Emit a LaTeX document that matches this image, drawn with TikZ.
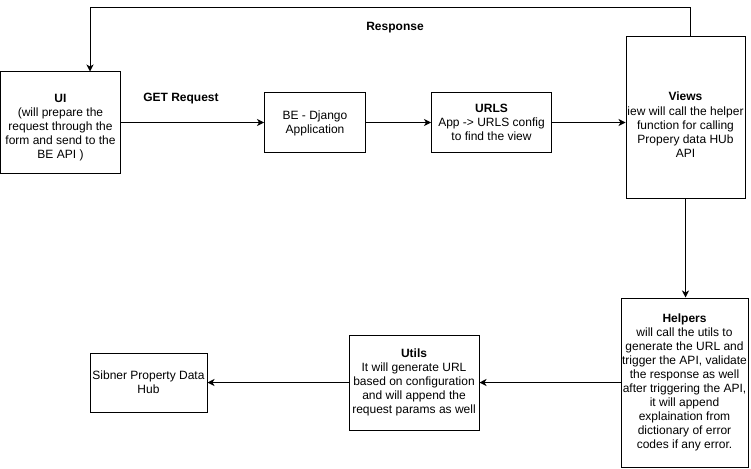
\documentclass[tikz,border=0pt]{standalone}
\usepackage{fontspec}
\setmainfont{Liberation Sans}
\usetikzlibrary{arrows.meta,positioning,calc}

\begin{document}
\begin{tikzpicture}[x=1pt, y=-1pt,
        box/.style={rectangle, draw=black, line width=1pt, fill=white, align=center, inner sep=1pt, font=\fontsize{12}{14}\selectfont},
        lbl/.style={font=\fontsize{12}{14}\selectfont\bfseries},
        flow/.style={-{Stealth[length=7pt, width=7pt, inset=2pt]}, line width=1pt},
        ]
        \useasboundingbox (0,0) rectangle (751,468);

        % Nodes
        \node[box, minimum width=120pt, minimum height=101pt] (ui) at (60.5,122.5) {\rule{0pt}{19pt}\textbf{UI}\\(will prepare the\\request through the\\form and send to the\\BE API )};
        \node[box, minimum width=101pt, minimum height=59pt] (django) [right=143pt of ui] {\rule{0pt}{11pt}BE - Django\\Application};
        \node[box, minimum width=120pt, minimum height=59pt] (urls) [right=65pt of django] {\textbf{URLS}\\App -> URLS config\\to find the view};
        \node[box, minimum width=119pt, minimum height=161pt] (views) at (685.5,117.5) {\rule{0pt}{23pt}\textbf{Views}\\iew will call the helper\\function for calling\\Propery data HUb\\API};
        \node[box, minimum width=127pt, minimum height=169pt] (helpers) at (684.5,382.5) {\textbf{Helpers}\\will call the utils to\\generate the URL and\\trigger the API, validate\\the response as well\\after triggering the API,\\it will append\\explaination from\\dictionary of error\\codes if any error.};
        \node[box, minimum width=130pt, minimum height=95pt] (utils) [left=141pt of helpers] {\textbf{Utils}\\It will generate URL\\based on configuration\\and will append the\\request params as well};
        \node[box, minimum width=117pt, minimum height=59pt] (hub) [left=141pt of utils] {Sibner Property Data\\Hub};

        \node[lbl] (get) at (181,99) {GET Request};
        \node[lbl] (resp) at (395,28) {Response};

        % Lines
        \draw[flow] (ui) -- (django);
        \draw[flow] (django) -- (urls);
        \draw[flow] (urls.east) -- (urls.east -| views.west);
        \draw[flow] (views.south) -- (views.south |- helpers.north);
        \draw[flow] (helpers.west |- utils.east) -- (utils.east);
        \draw[flow] (utils) -- (hub);
        \draw[flow] ([xshift=5pt]views.north) -- ++(0,-29) -| ([xshift=29.5pt]ui.north);

\end{tikzpicture}
\end{document}
